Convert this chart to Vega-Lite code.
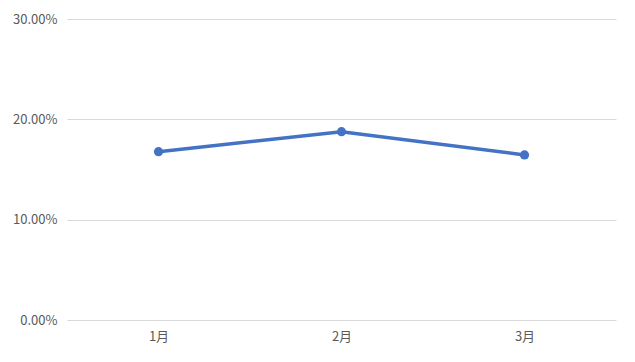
{
  "$schema": "https://vega.github.io/schema/vega-lite/v6.json",
  "autosize": {"type": "none"},
  "width": 549,
  "height": 301,
  "padding": {"left": 67, "top": 19, "right": 19, "bottom": 42},
  "background": "white",
  "config": {
    "view": {"stroke": null},
    "font": "Noto Sans CJK SC"
  },
  "data": {
    "values": [
      {"month": "1月", "rate": 0.1678},
      {"month": "2月", "rate": 0.1877},
      {"month": "3月", "rate": 0.1645}
    ]
  },
  "encoding": {
    "x": {
      "field": "month",
      "type": "ordinal",
      "sort": null,
      "scale": {"type": "point", "padding": 0.5},
      "axis": {
        "title": null,
        "domain": false,
        "ticks": false,
        "labelAngle": 0,
        "labelPadding": 10,
        "labelFontSize": 13,
        "labelColor": "#595959",
        "labelFont": "Noto Sans CJK SC"
      }
    },
    "y": {
      "field": "rate",
      "type": "quantitative",
      "scale": {"domain": [0, 0.3], "nice": false},
      "axis": {
        "title": null,
        "values": [0, 0.1, 0.2, 0.3],
        "format": ".2%",
        "domain": false,
        "ticks": false,
        "labelPadding": 10,
        "labelFontSize": 13,
        "labelColor": "#595959",
        "labelFont": "Noto Sans CJK SC",
        "gridColor": "#d9d9d9",
        "gridWidth": 1
      }
    }
  },
  "layer": [
    {"mark": {"type": "line", "color": "#4472C4", "strokeWidth": 3.5}},
    {"mark": {"type": "point", "filled": true, "color": "#4472C4", "size": 85, "opacity": 1}}
  ]
}
